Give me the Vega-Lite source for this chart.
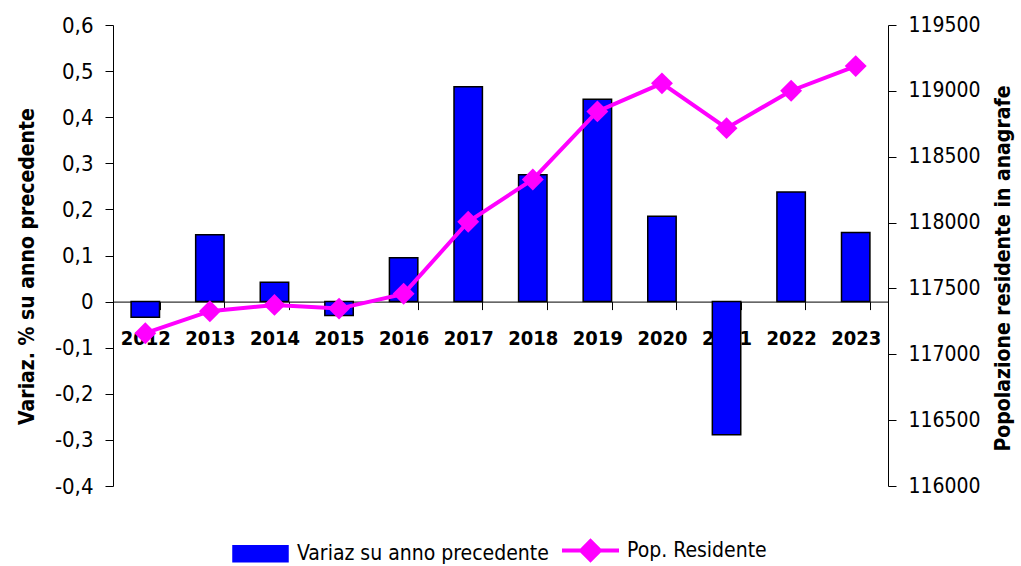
{
  "$schema": "https://vega.github.io/schema/vega-lite/v6.json",
  "width": 775,
  "height": 461,
  "autosize": "none",
  "padding": {"left": 113, "top": 25, "right": 133, "bottom": 80},
  "background": "white",
  "config": {
    "view": {"stroke": null},
    "font": "DejaVu Sans Condensed",
    "axis": {
      "domainColor": "#000000",
      "tickColor": "#000000",
      "labelColor": "#000000",
      "titleColor": "#000000",
      "domainWidth": 1,
      "tickWidth": 1,
      "grid": false,
      "labelFont": "DejaVu Sans Condensed",
      "titleFont": "DejaVu Sans Condensed"
    }
  },
  "data": {
    "values": [
      {"anno": "2012", "variaz": -0.034, "pop": 117160},
      {"anno": "2013", "variaz": 0.145, "pop": 117327},
      {"anno": "2014", "variaz": 0.042, "pop": 117375},
      {"anno": "2015", "variaz": -0.03, "pop": 117347},
      {"anno": "2016", "variaz": 0.095, "pop": 117459},
      {"anno": "2017", "variaz": 0.466, "pop": 118006},
      {"anno": "2018", "variaz": 0.275, "pop": 118327},
      {"anno": "2019", "variaz": 0.439, "pop": 118844},
      {"anno": "2020", "variaz": 0.185, "pop": 119057},
      {"anno": "2021", "variaz": -0.289, "pop": 118717},
      {"anno": "2022", "variaz": 0.238, "pop": 119001},
      {"anno": "2023", "variaz": 0.15, "pop": 119188}
    ]
  },
  "encoding": {
    "x": {
      "field": "anno",
      "type": "ordinal",
      "scale": {"paddingInner": 0.56, "paddingOuter": 0.28},
      "axis": {
        "title": null,
        "orient": "bottom",
        "offset": -184.4,
        "labelAngle": 0,
        "labelFontSize": 20,
        "labelFontWeight": "bold",
        "labelPadding": 19,
        "tickSize": 8,
        "tickBand": "extent"
      }
    }
  },
  "layer": [
    {
      "mark": {"type": "bar", "stroke": "#000000", "strokeWidth": 1.5},
      "encoding": {
        "y": {
          "field": "variaz",
          "type": "quantitative",
          "scale": {"domain": [-0.4, 0.6], "nice": false, "zero": false},
          "axis": {
            "orient": "left",
            "values": [-0.4, -0.3, -0.2, -0.1, 0, 0.1, 0.2, 0.3, 0.4, 0.5, 0.6],
            "labelExpr": "replace(replace(format(datum.value, '.1~f'), '.', ','), '−', '-')",
            "labelFontSize": 22,
            "labelPadding": 12,
            "tickSize": 8,
            "title": "Variaz. % su anno precedente",
            "titleFontSize": 21,
            "titleFontWeight": "bold",
            "titleAngle": 270,
            "titleAlign": "center",
            "titleBaseline": "middle",
            "titleX": -86,
            "titleY": 241
          }
        },
        "color": {
          "datum": "Variaz su anno precedente",
          "type": "nominal",
          "scale": {
            "domain": ["Variaz su anno precedente", "Pop. Residente"],
            "range": ["#0000FF", "#FF00FF"]
          },
          "legend": {
            "title": null,
            "orient": "none",
            "direction": "horizontal",
            "legendX": 137,
            "legendY": 515,
            "symbolSize": 3249,
            "labelFontSize": 21,
            "labelFont": "DejaVu Sans Condensed",
            "labelColor": "#000000",
            "labelLimit": 500,
            "labelOffset": 26,
            "columnPadding": 5,
            "encode": {
              "symbols": {
                "update": {
                  "shape": {"signal": "datum.value === 'Pop. Residente' ? 'M-1,0H1M-0.33,0L0,-0.33L0.33,0L0,0.33Z' : 'M-0.965,-0.28H0.965V0.28H-0.965Z'"},
                  "fill": {"signal": "datum.value === 'Pop. Residente' ? '#FF00FF' : '#0000FF'"},
                  "stroke": {"signal": "datum.value === 'Pop. Residente' ? '#FF00FF' : '#000000'"},
                  "strokeWidth": {"signal": "datum.value === 'Pop. Residente' ? 4 : 1.5"},
                  "opacity": {"value": 1},
                  "fillOpacity": {"value": 1}
                }
              }
            }
          }
        }
      }
    },
    {
      "mark": {
        "type": "line",
        "strokeWidth": 4,
        "point": {"filled": true, "shape": "diamond", "size": 480, "opacity": 1}
      },
      "encoding": {
        "y": {
          "field": "pop",
          "type": "quantitative",
          "scale": {"domain": [116000, 119500], "nice": false, "zero": false},
          "axis": {
            "orient": "right",
            "values": [116000, 116500, 117000, 117500, 118000, 118500, 119000, 119500],
            "format": "d",
            "labelFontSize": 21,
            "labelPadding": 12,
            "tickSize": 8,
            "title": "Popolazione residente in anagrafe",
            "titleFontSize": 21,
            "titleFontWeight": "bold",
            "titleAngle": 270,
            "titleAlign": "center",
            "titleBaseline": "middle",
            "titleX": 115,
            "titleY": 243
          }
        },
        "color": {
          "datum": "Pop. Residente",
          "type": "nominal",
          "legend": {
            "title": null,
            "orient": "none",
            "direction": "horizontal",
            "legendX": 137,
            "legendY": 515,
            "symbolSize": 3249,
            "labelFontSize": 21,
            "labelFont": "DejaVu Sans Condensed",
            "labelColor": "#000000",
            "labelLimit": 500,
            "labelOffset": 26,
            "columnPadding": 5,
            "encode": {
              "symbols": {
                "update": {
                  "shape": {"signal": "datum.value === 'Pop. Residente' ? 'M-1,0H1M-0.33,0L0,-0.33L0.33,0L0,0.33Z' : 'M-0.965,-0.28H0.965V0.28H-0.965Z'"},
                  "fill": {"signal": "datum.value === 'Pop. Residente' ? '#FF00FF' : '#0000FF'"},
                  "stroke": {"signal": "datum.value === 'Pop. Residente' ? '#FF00FF' : '#000000'"},
                  "strokeWidth": {"signal": "datum.value === 'Pop. Residente' ? 4 : 1.5"},
                  "opacity": {"value": 1},
                  "fillOpacity": {"value": 1}
                }
              }
            }
          }
        }
      }
    }
  ],
  "resolve": {"scale": {"y": "independent"}}
}
